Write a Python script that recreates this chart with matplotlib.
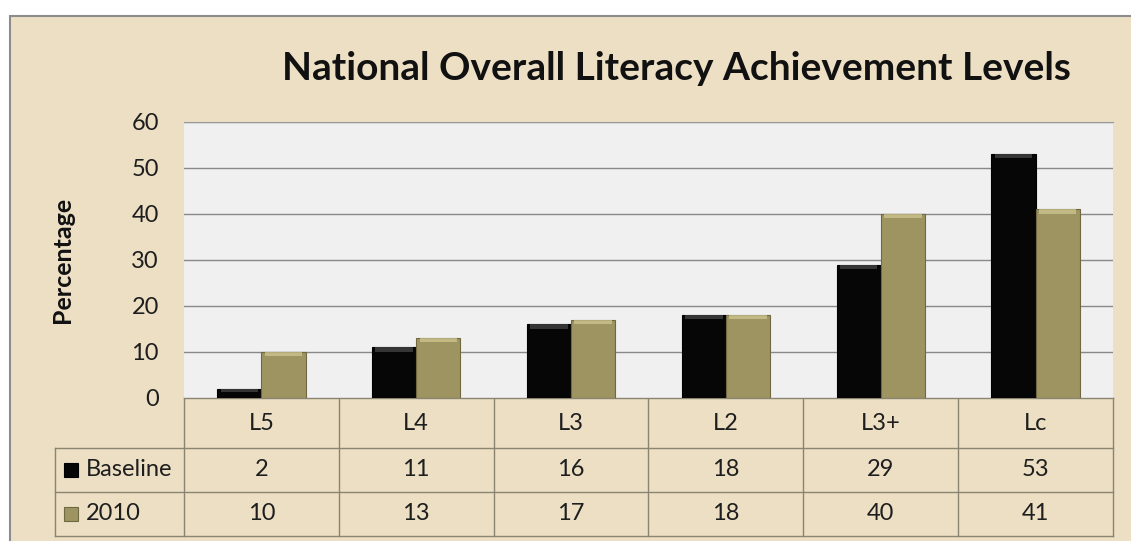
import matplotlib
matplotlib.use("Agg")
import matplotlib.pyplot as plt
import matplotlib.transforms as mtransforms
from matplotlib.patches import Rectangle
import numpy as np

categories = ["L5", "L4", "L3", "L2", "L3+", "Lc"]
series_names = ["Baseline", "2010"]
baseline = [2, 11, 16, 18, 29, 53]
y2010 = [10, 13, 17, 18, 40, 41]
yticks = [0, 10, 20, 30, 40, 50, 60]

W, H = 1131, 541
fig = plt.figure(figsize=(W / 100, H / 100), dpi=100)
fig.patch.set_facecolor("white")
FONT = ["Lato", "DejaVu Sans"]
TXT = "#1e1e1e"
FS = 17

def px(x0, y0, x1, y1):
    return [x0 / W, 1 - y1 / H, (x1 - x0) / W, (y1 - y0) / H]

# overlay axes for frame and table (pixel coordinates)
ov = fig.add_axes([0, 0, 1, 1])
ov.set_xlim(0, W)
ov.set_ylim(H, 0)
ov.axis("off")
ov.add_patch(Rectangle((10, 16), W + 20, H, facecolor="#ecdfc4", edgecolor="#8c8c8c", lw=1.5))

# main plot
ax = fig.add_axes(px(184, 122, 1113, 398))
ax.set_facecolor("#f0f0f0")
n = len(categories)
x = np.arange(n)
bw = 0.285
colors = ["#060606", "#9d9462"]
edges = ["#000000", "#6f6840"]
tops = ["#4a4a4a", "#d2c994"]
for i, (vals, c, e, t) in enumerate(zip([baseline, y2010], colors, edges, tops)):
    xs = x + (i - 0.5) * bw
    ax.bar(xs, vals, width=bw, color=c, edgecolor=e, linewidth=0.8, zorder=3)
    hh = [min(0.9, v * 0.3) for v in vals]
    ax.bar(xs, hh, bottom=[v - h for v, h in zip(vals, hh)],
           width=bw * 0.85, color=t, linewidth=0, zorder=4, alpha=0.7)
ax.set_xlim(-0.5, n - 0.5)
ax.set_ylim(0, 60)
ax.set_yticks(yticks)
ax.yaxis.grid(True, color="#888888", lw=1)
ax.set_axisbelow(True)
ax.set_xticks([])
ax.tick_params(axis="y", length=0, pad=18, labelsize=FS, labelcolor=TXT)
for lab in ax.get_yticklabels():
    lab.set_family(FONT)
for s in ["left", "right", "bottom"]:
    ax.spines[s].set_visible(False)
ax.spines["top"].set_color("#999999")

fig.text(62 / W, 1 - 260 / H, "Percentage", rotation=90, ha="center", va="center",
         fontsize=18, fontweight="bold", family=FONT, color="#111111")

fig.text(676 / W, 1 - 68 / H, "National Overall Literacy Achievement Levels",
         ha="center", va="center", fontsize=28, fontweight="bold", family=FONT, color="#111111")

# data table
tr = mtransforms.blended_transform_factory(ax.transData, ov.transData)
lc = "#8a8470"
row_y = [398, 448, 492, 536]
ov.plot([184, 1113], [398, 398], color=lc, lw=1)
for yy in row_y[1:]:
    ov.plot([55, 1113], [yy, yy], color=lc, lw=1)
for k in range(n + 1):
    ov.plot([k - 0.5, k - 0.5], [398, 536], color=lc, lw=1, transform=tr)
ov.plot([55, 55], [448, 536], color=lc, lw=1)

for k, cat in enumerate(categories):
    ov.text(k, 423, cat, transform=tr, ha="center", va="center", fontsize=FS, family=FONT, color=TXT)
for r, (name, vals, c, e) in enumerate(zip(series_names, [baseline, y2010], colors, edges)):
    yc = (row_y[r + 1] + row_y[r + 2]) / 2
    ov.add_patch(Rectangle((64, yc - 7), 14, 14, facecolor=c, edgecolor=e, lw=0.8))
    ov.text(86, yc, name, ha="left", va="center", fontsize=FS, family=FONT, color=TXT)
    for k, v in enumerate(vals):
        ov.text(k, yc, str(v), transform=tr, ha="center", va="center", fontsize=FS, family=FONT, color=TXT)

fig.savefig("out.png", dpi=100)
